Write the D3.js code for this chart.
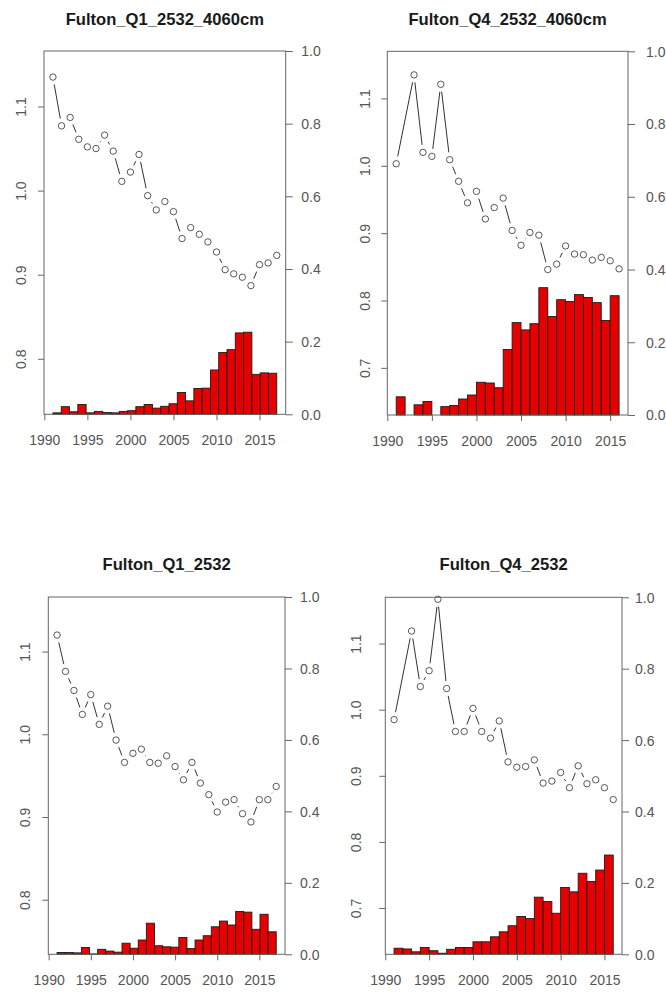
<!DOCTYPE html>
<html>
<head>
<meta charset="utf-8">
<script src="https://cdn.jsdelivr.net/npm/d3@7/dist/d3.min.js"></script>
<style>
  body { margin: 0; background: #fff; }
  svg { display: block; }
</style>
</head>
<body>
<script>
// ---- data ----
const titles = ["Fulton_Q1_2532_4060cm", "Fulton_Q4_2532_4060cm", "Fulton_Q1_2532", "Fulton_Q4_2532"];

const yearsQ1 = [1991, 1992, 1993, 1994, 1995, 1996, 1997, 1998, 1999, 2000, 2001, 2002, 2003, 2004,
                 2005, 2006, 2007, 2008, 2009, 2010, 2011, 2012, 2013, 2014, 2015, 2016, 2017];
const yearsQ4 = [1991, 1993, 1994, 1995, 1996, 1997, 1998, 1999, 2000, 2001, 2002, 2003, 2004,
                 2005, 2006, 2007, 2008, 2009, 2010, 2011, 2012, 2013, 2014, 2015, 2016];

// Fulton condition factor (left axis)
const fultonQ1_4060 = [1.135, 1.077, 1.087, 1.061, 1.052, 1.050, 1.066, 1.047, 1.011, 1.022, 1.043, 0.994, 0.977, 0.987,
                       0.975, 0.943, 0.956, 0.948, 0.939, 0.927, 0.906, 0.901, 0.897, 0.887, 0.912, 0.914, 0.923];
const fultonQ4_4060 = [1.003, 1.135, 1.020, 1.014, 1.121, 1.009, 0.977, 0.945, 0.962, 0.921, 0.938, 0.952, 0.904,
                       0.882, 0.901, 0.897, 0.846, 0.854, 0.881, 0.869, 0.868, 0.860, 0.864, 0.859, 0.847];
const fultonQ1_2532 = [1.120, 1.076, 1.053, 1.024, 1.048, 1.012, 1.034, 0.993, 0.966, 0.977, 0.982, 0.966, 0.965, 0.974,
                       0.961, 0.945, 0.966, 0.941, 0.927, 0.906, 0.918, 0.921, 0.904, 0.894, 0.921, 0.921, 0.937];
const fultonQ4_2532 = [0.985, 1.119, 1.035, 1.059, 1.167, 1.032, 0.967, 0.967, 1.002, 0.967, 0.957, 0.983, 0.921,
                       0.913, 0.914, 0.924, 0.889, 0.892, 0.905, 0.882, 0.915, 0.888, 0.894, 0.882, 0.864];

// Proportion (right axis, bars)
const ratioQ1_4060 = [0.004, 0.021, 0.007, 0.027, 0.004, 0.008, 0.005, 0.004, 0.008, 0.010, 0.021, 0.027, 0.017, 0.022,
                      0.029, 0.060, 0.037, 0.071, 0.072, 0.122, 0.170, 0.178, 0.224, 0.226, 0.110, 0.114, 0.113];
const ratioQ4_4060 = [0.050, 0.000, 0.028, 0.037, 0.000, 0.023, 0.026, 0.044, 0.055, 0.090, 0.088, 0.075, 0.180,
                      0.254, 0.234, 0.251, 0.350, 0.271, 0.317, 0.312, 0.331, 0.323, 0.309, 0.260, 0.328];
const ratioQ1_2532 = [0.005, 0.005, 0.004, 0.019, 0.001, 0.014, 0.009, 0.006, 0.031, 0.017, 0.040, 0.087, 0.024, 0.021,
                      0.020, 0.047, 0.016, 0.040, 0.052, 0.077, 0.093, 0.082, 0.120, 0.118, 0.070, 0.112, 0.063];
const ratioQ4_2532 = [0.017, 0.015, 0.007, 0.019, 0.010, 0.003, 0.014, 0.019, 0.019, 0.035, 0.035, 0.049, 0.063,
                      0.080, 0.106, 0.100, 0.160, 0.148, 0.115, 0.187, 0.175, 0.227, 0.204, 0.236, 0.278];

// axis limits and ticks
const fultonLimQ1 = [0.75, 1.15];
const fultonLimQ4 = [0.65, 1.15];
const leftTicksQ1 = [0.8, 0.9, 1.0, 1.1];
const leftTicksQ4 = [0.7, 0.8, 0.9, 1.0, 1.1];
const rightTicks = [0.0, 0.2, 0.4, 0.6, 0.8, 1.0];
const yearTicks = [1990, 1995, 2000, 2005, 2010, 2015];

// ---- drawing ----
const W = 666, H = 992;
const FONT = "'Liberation Sans', Arial, Helvetica, sans-serif";
const svg = d3.select("body").append("svg").attr("width", W).attr("height", H)
  .style("font-family", FONT);

// R-style 4% range extension
function extend(lo, hi) {
  const e = (hi - lo) * 0.04;
  return [lo - e, hi + e];
}

const panels = [
  { title: titles[0], years: yearsQ1, fulton: fultonQ1_4060, ratio: ratioQ1_4060, lim: fultonLimQ1, ticks: leftTicksQ1,
    box: { left: 44, right: 285.7, top: 51, bottom: 414.3 }, labOff: 23.3, rightOff: 15.5, titleY: 24.5 },
  { title: titles[1], years: yearsQ4, fulton: fultonQ4_4060, ratio: ratioQ4_4060, lim: fultonLimQ4, ticks: leftTicksQ4,
    box: { left: 387.3, right: 628, top: 51.3, bottom: 415 }, labOff: 22.6, rightOff: 18, titleY: 24.5 },
  { title: titles[2], years: yearsQ1, fulton: fultonQ1_2532, ratio: ratioQ1_2532, lim: fultonLimQ1, ticks: leftTicksQ1,
    box: { left: 48.3, right: 285, top: 597, bottom: 954.3 }, labOff: 23.3, rightOff: 15, titleY: 570 },
  { title: titles[3], years: yearsQ4, fulton: fultonQ4_2532, ratio: ratioQ4_2532, lim: fultonLimQ4, ticks: leftTicksQ4,
    box: { left: 385.3, right: 622, top: 597.3, bottom: 954.3 }, labOff: 29.6, rightOff: 13, titleY: 570 }
];

const AXIS_COL = "#666";
const TEXT_COL = "#555";

function drawPanel(p) {
  const g = svg.append("g");
  const b = p.box;
  const first = p.years[0], last = p.years[p.years.length - 1];

  const x = d3.scaleLinear().domain(extend(first, last)).range([b.left, b.right]);
  const yL = d3.scaleLinear().domain(extend(p.lim[0], p.lim[1])).range([b.bottom, b.top]);
  const yR = d3.scaleLinear().domain([0, 1]).range([b.bottom, b.top]);
  const xb = d3.scaleBand().domain(d3.range(p.ratio.length))
    .range([x(first), x(last)]).paddingInner(0).paddingOuter(0);

  // bars
  g.append("g").selectAll("rect").data(p.ratio).join("rect")
    .attr("x", (d, i) => xb(i))
    .attr("width", xb.bandwidth())
    .attr("y", d => yR(d))
    .attr("height", d => yR(0) - yR(d))
    .attr("fill", "#e60000")
    .attr("stroke", "#1a1a1a")
    .attr("stroke-width", 0.9);

  // points joined by gapped segments
  const pts = p.years.map((yr, i) => ({ x: x(yr), y: yL(p.fulton[i]) }));
  const gap = 7.5;
  const segs = [];
  for (let i = 0; i < pts.length - 1; i++) {
    const a = pts[i], c = pts[i + 1];
    const dx = c.x - a.x, dy = c.y - a.y;
    const len = Math.hypot(dx, dy);
    if (len > 2 * gap) {
      const ux = dx / len, uy = dy / len;
      segs.push({ x1: a.x + ux * gap, y1: a.y + uy * gap, x2: c.x - ux * gap, y2: c.y - uy * gap });
    }
  }
  g.append("g").selectAll("line").data(segs).join("line")
    .attr("x1", d => d.x1).attr("y1", d => d.y1)
    .attr("x2", d => d.x2).attr("y2", d => d.y2)
    .attr("stroke", "#333").attr("stroke-width", 1);
  g.append("g").selectAll("circle").data(pts).join("circle")
    .attr("cx", d => d.x).attr("cy", d => d.y).attr("r", 3.2)
    .attr("fill", "none").attr("stroke", "#444").attr("stroke-width", 0.9);

  // frame
  g.append("rect")
    .attr("x", b.left).attr("y", b.top)
    .attr("width", b.right - b.left).attr("height", b.bottom - b.top)
    .attr("fill", "none").attr("stroke", AXIS_COL).attr("stroke-width", 1);

  // left axis (rotated labels)
  const left = g.append("g").attr("transform", `translate(${b.left},0)`)
    .call(d3.axisLeft(yL).tickValues(p.ticks).tickSize(6).tickFormat(d3.format(".1f")));
  left.select(".domain").remove();
  left.selectAll(".tick line").attr("stroke", AXIS_COL);
  left.selectAll(".tick text")
    .attr("x", null).attr("dy", null)
    .attr("transform", `translate(${-p.labOff},0) rotate(-90)`)
    .attr("text-anchor", "middle")
    .attr("dominant-baseline", "central")
    .attr("fill", TEXT_COL).style("font-size", "14px").style("font-family", FONT);

  // right axis
  const right = g.append("g").attr("transform", `translate(${b.right},0)`)
    .call(d3.axisRight(yR).tickValues(rightTicks).tickSize(7).tickFormat(d3.format(".1f")));
  right.select(".domain").remove();
  right.selectAll(".tick line").attr("stroke", AXIS_COL);
  right.selectAll(".tick text")
    .attr("x", p.rightOff).attr("dy", "0.35em")
    .attr("fill", TEXT_COL).style("font-size", "14px").style("font-family", FONT);

  // bottom axis
  const bottom = g.append("g").attr("transform", `translate(0,${b.bottom})`)
    .call(d3.axisBottom(x).tickValues(yearTicks).tickSize(6).tickFormat(d3.format("d")));
  bottom.select(".domain").remove();
  bottom.selectAll(".tick line").attr("stroke", AXIS_COL);
  bottom.selectAll(".tick text")
    .attr("y", 25.7).attr("dy", "0.35em")
    .attr("fill", TEXT_COL).style("font-size", "14px").style("font-family", FONT);

  // title
  g.append("text")
    .attr("x", (b.left + b.right) / 2).attr("y", p.titleY)
    .attr("text-anchor", "middle")
    .attr("font-weight", "bold").attr("font-size", 16.6)
    .attr("fill", "#1a1a1a")
    .text(p.title);
}

panels.forEach(drawPanel);
</script>
</body>
</html>
